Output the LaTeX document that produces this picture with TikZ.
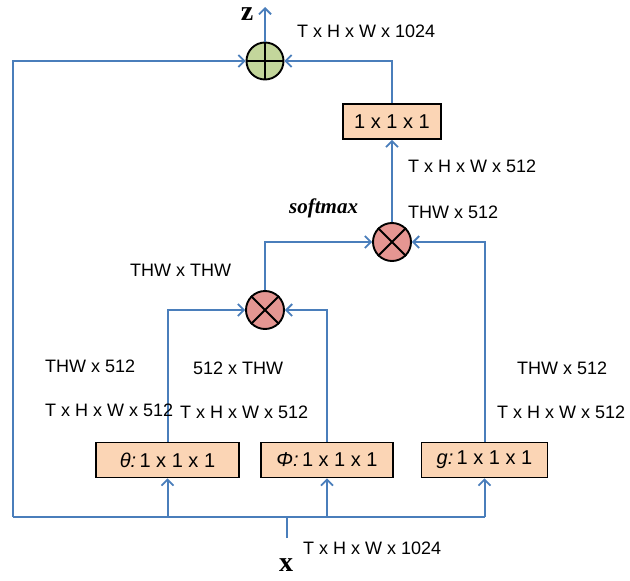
\documentclass[tikz,border=0pt]{standalone}
\usepackage{fontspec}
\setmainfont{Liberation Sans}
\newfontfamily\seriff{Liberation Serif}
\usetikzlibrary{arrows.meta}
\definecolor{lineblue}{RGB}{74,126,187}
\definecolor{boxfill}{RGB}{251,213,181}
\definecolor{plusfill}{RGB}{195,214,155}
\definecolor{mulfill}{RGB}{229,150,146}
\tikzset{
 conn/.style={draw=lineblue, line width=2pt, -{Straight Barb[length=6pt,width=12pt,line width=1.8pt]}},
 wire/.style={draw=lineblue, line width=2pt},
 opbox/.style={draw=black, line width=1.6pt, fill=boxfill, minimum height=35pt, inner sep=0pt, font=\fontsize{20}{23}\selectfont},
 opcirc/.style={circle, draw=black, line width=1.9pt, minimum size=38pt, inner sep=0pt},
 lbl/.style={font=\fontsize{18}{21}\selectfont, inner sep=0pt, anchor=west},
 var/.style={font=\seriff\bfseries\fontsize{28}{31}\selectfont, inner sep=0pt},
}
\begin{document}
\begin{tikzpicture}[x=1pt,y=-1pt]
\useasboundingbox (0,0) rectangle (630,581);
% operators
\node[opcirc, fill=plusfill, minimum size=37pt] (plus) at (265,61) {};
\draw[line width=1.9pt] (plus.north) -- (plus.south) (plus.west) -- (plus.east);
\node[opcirc, fill=mulfill] (mul2) at (392,242) {};
\draw[line width=1.9pt] (mul2.north west) -- (mul2.south east) (mul2.north east) -- (mul2.south west);
\node[opcirc, fill=mulfill] (mul1) at (265,310) {};
\draw[line width=1.9pt] (mul1.north west) -- (mul1.south east) (mul1.north east) -- (mul1.south west);
% boxes
\node[opbox, minimum width=98pt] (box1) at (392,121.5) {1 x 1 x 1};
\node[opbox, minimum width=143pt] (theta) at (167.5,460) {\itshape θ:\upshape\,1 x 1 x 1};
\node[opbox, minimum width=132pt] (phi) at (327,460) {\itshape Φ:\upshape\,1 x 1 x 1};
\node[opbox, minimum width=126pt] (g) at (484.5,460) {\itshape g:\upshape\,1 x 1 x 1};
% coordinates
\coordinate (xin) at (287,538);
\coordinate (jx) at (287,517);
\coordinate (jl) at (13,517);
\coordinate (jt) at (167.5,517);
\coordinate (jp) at (327,517);
\coordinate (jg) at (484.5,517);
\coordinate (ztip) at (265,7);
% connectors
\draw[wire] (xin) -- (jx);
\draw[wire] (jl) -- (jg);
\draw[conn] (jt) -- (theta.south);
\draw[conn] (jp) -- (phi.south);
\draw[conn] (jg) -- (g.south);
\draw[conn] (jl) |- (plus.west);
\draw[conn] (theta.north) |- (mul1.west);
\draw[conn] (phi.north) |- (mul1.east);
\draw[conn] (mul1.north) |- (mul2.west);
\draw[conn] (g.north) |- (mul2.east);
\draw[conn] (mul2.north) -- (box1.south);
\draw[conn] (box1.north) |- (plus.east);
\draw[conn] (plus.north) -- (ztip);
% labels
\node[var] (zl) at (247,14) {z};
\node[var] (xl) at (286,565) {x};
\node[lbl] (l1) at (297,31) {T x H x W x 1024};
\node[lbl] (l2) at (408,166) {T x H x W x 512};
\node[lbl] (l3) at (408,212) {THW x 512};
\node[lbl, font=\seriff\bfseries\itshape\fontsize{21}{24}\selectfont] (l4) at (289,208) {softmax};
\node[lbl] (l5) at (130,270) {THW x THW};
\node[lbl] (l6) at (45,366) {THW x 512};
\node[lbl] (l7) at (45,410) {T x H x W x 512};
\node[lbl] (l8) at (193,368) {512 x THW};
\node[lbl] (l9) at (180,412) {T x H x W x 512};
\node[lbl] (l10) at (517,368) {THW x 512};
\node[lbl] (l11) at (497,412) {T x H x W x 512};
\node[lbl] (l12) at (303,548) {T x H x W x 1024};
\end{tikzpicture}
\end{document}
